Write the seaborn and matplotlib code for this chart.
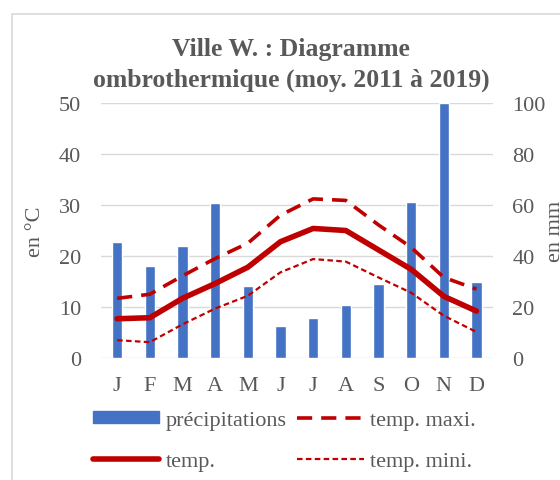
import numpy as np
import pandas as pd
import matplotlib.pyplot as plt
import matplotlib.patches as mpatches
from matplotlib.lines import Line2D
import seaborn as sns

mois = ['J', 'F', 'M', 'A', 'M', 'J', 'J', 'A', 'S', 'O', 'N', 'D']
precipitations = [45.6, 36.2, 43.8, 60.8, 28.3, 12.7, 15.7, 20.8, 29.0, 61.3, 100.0, 29.8]
temp = [7.7, 7.9, 11.7, 14.6, 17.8, 22.8, 25.4, 25.0, 21.2, 17.4, 12.1, 9.2]
temp_maxi = [11.7, 12.5, 16.1, 19.5, 22.5, 28.0, 31.2, 30.9, 26.1, 21.7, 15.8, 13.5]
temp_mini = [3.5, 3.1, 6.6, 9.7, 12.2, 16.8, 19.4, 18.9, 15.8, 12.8, 8.3, 5.1]

df = pd.DataFrame({
    'pos': np.arange(12),
    'mois': [f'{i}' for i in range(12)],
    'precip': precipitations,
    'temp': temp,
    'maxi': temp_maxi,
    'mini': temp_mini,
})

sns.set_style('white')
plt.rcParams['font.family'] = ['Liberation Serif', 'DejaVu Serif']
gris = '#595959'
bleu = '#4472C4'
rouge = '#C00000'
fs = 16
tiret_maxi = (0, (4.2, 2.5))
tiret_mini = (0, (2.5, 1.5))

fig = plt.figure(figsize=(5.6, 4.81), dpi=100)
ax = fig.add_axes([0.180, 0.2536, 0.700, 0.5302])
ax2 = ax.twinx()

# barres (mm) sur l'axe de droite, dessinées sous les courbes
sns.barplot(data=df, x='mois', y='precip', color=bleu, width=0.31,
            saturation=1, ax=ax2, zorder=2)
ax2.set_ylim(0, 100)
ax2.set_yticks(range(0, 101, 20))
ax2.grid(axis='y', color='#D9D9D9', lw=1, zorder=0)
ax2.set_axisbelow(True)

# courbes (°C) sur l'axe de gauche
sns.lineplot(data=df, x='pos', y='maxi', color=rouge, lw=2.6, ax=ax,
             linestyle=tiret_maxi)
sns.lineplot(data=df, x='pos', y='mini', color=rouge, lw=1.6, ax=ax,
             linestyle=tiret_mini)
sns.lineplot(data=df, x='pos', y='temp', color=rouge, lw=4, ax=ax,
             solid_capstyle='round')
ax.set_ylim(0, 50)
ax.set_yticks(range(0, 51, 10))
ax.set_xlim(-0.5, 11.5)
ax.set_xticks(range(12))
ax.set_xticklabels(mois)
ax.set_zorder(ax2.get_zorder() + 1)
ax.patch.set_visible(False)

for a in (ax, ax2):
    for s in a.spines.values():
        s.set_visible(False)
    a.tick_params(length=0, labelsize=fs, labelcolor=gris, pad=14)
ax.tick_params(axis='x', pad=13)
ax.set_xlabel('')
ax2.set_xlabel('')
ax.set_ylabel('en °C', fontsize=fs, color=gris, labelpad=10)
ax2.set_ylabel('en mm', fontsize=fs, color=gris, labelpad=0)

fig.text(0.52, 0.865, 'Ville W. : Diagramme\nombrothermique (moy. 2011 à 2019)',
         ha='center', va='center', fontsize=18.5, fontweight='bold',
         color=gris, linespacing=1.45)

handles = [
    mpatches.Patch(color=bleu),
    Line2D([], [], color=rouge, lw=4, solid_capstyle='round'),
    Line2D([], [], color=rouge, lw=2.6, linestyle=tiret_maxi),
    Line2D([], [], color=rouge, lw=1.6, linestyle=tiret_mini),
]
labels = ['précipitations', 'temp.', 'temp. maxi.', 'temp. mini.']
fig.legend(handles, labels, ncol=2, loc='center', bbox_to_anchor=(0.508, 0.081),
           frameon=False, fontsize=fs, labelcolor=gris, handlelength=3.0,
           handleheight=0.45, handletextpad=0.3, columnspacing=0.45,
           labelspacing=1.0)

fig.patches.append(mpatches.Rectangle((12 / 560, -0.1), 1.2, 1 - 15 / 481 + 0.1,
                                      transform=fig.transFigure, fill=False,
                                      edgecolor='#D9D9D9', lw=1.2))

fig.savefig('out.png', dpi=100)
